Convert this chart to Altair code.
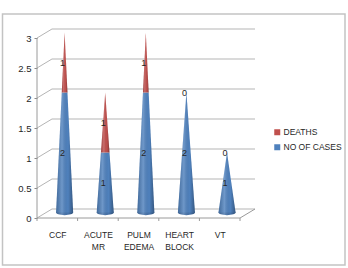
import json
import altair as alt
import pandas as pd

# ---- data -------------------------------------------------------------
categories = ["CCF", "ACUTE MR", "PULM EDEMA", "HEART BLOCK", "VT"]
cases = [2, 1, 2, 2, 1]
deaths = [1, 1, 1, 0, 0]
series_names = ["DEATHS", "NO OF CASES"]
series_colors = ["#C0504D", "#4F81BD"]
y_ticks = [0, 0.5, 1, 1.5, 2, 2.5, 3]

# ---- pseudo-3D geometry (data units) -----------------------------------
DEPTH_X = 0.369   # shift of the back wall along x
DEPTH_Y = 0.15    # shift of the back wall along y
CONE_X = 0.18     # cones stand half way into the floor
CONE_Y = 0.09
CONE_R = 0.21     # cone base radius
N = len(categories)
X_MAX = N + DEPTH_X
Y_MAX = 3 + DEPTH_Y

FONT = "Liberation Sans"
GRID = "#b5b5b5"
TEXT = "#262626"

xs = alt.Scale(domain=[0, X_MAX], nice=False, zero=False)
ys = alt.Scale(domain=[0, Y_MAX], nice=False, zero=False)

name_expr = "split(" + json.dumps(categories) + "[round(datum.value - 0.5)], ' ')"
X_AXIS = alt.Axis(values=[i + 0.5 for i in range(N)], labelExpr=name_expr,
                  ticks=False, domain=False, grid=False, title=None,
                  labelFont=FONT, labelFontSize=8.5, labelColor=TEXT,
                  labelPadding=12, labelLineHeight=12, labelBaseline="top")
Y_AXIS = alt.Axis(values=y_ticks, format="~g", domain=False, grid=False, title=None,
                  ticks=True, tickSize=3, tickColor="#8c8c8c",
                  labelFont=FONT, labelFontSize=9.5, labelColor=TEXT, labelPadding=3)


def X(field):
    return alt.X(field, type="quantitative", scale=xs, axis=X_AXIS, stack=None)


def Y(field):
    return alt.Y(field, type="quantitative", scale=ys, axis=Y_AXIS, stack=None)


# cone segments: each segment is a trapezoid tapering to the cone's own total
cone_rows, label_rows, base_rows = [], [], []
for i, cat in enumerate(categories):
    total = cases[i] + deaths[i]
    cx = i + 0.5 + CONE_X
    base_rows.append({"cx": cx, "by": CONE_Y})
    for name, lo, val in (("NO OF CASES", 0, cases[i]), ("DEATHS", cases[i], deaths[i])):
        hi = lo + val
        label_rows.append({"cx": cx, "ly": lo + val / 2 + CONE_Y, "txt": str(val)})
        if val <= 0:
            continue
        for yv in (lo, hi):
            hw = CONE_R * (1 - yv / total)
            cone_rows.append({"seg": f"{cat}|{name}", "series": name,
                              "y": yv + CONE_Y, "xl": cx - hw, "xr": cx + hw})

cones = pd.DataFrame(cone_rows)
labels = pd.DataFrame(label_rows)
bases = pd.DataFrame(base_rows)

ticks_df = pd.DataFrame({"v": y_ticks})
ticks_df["vb"] = ticks_df["v"] + DEPTH_Y
ticks_df["x0"] = 0.0
ticks_df["xb"] = DEPTH_X
ticks_df["xe"] = X_MAX

# back-wall gridlines and their slanted ends on the side wall
back_grid = alt.Chart(ticks_df).mark_rule(color=GRID, strokeWidth=1).encode(
    x=X("xb"), x2="xe:Q", y=Y("vb"),
)
side_grid = alt.Chart(ticks_df).mark_rule(color=GRID, strokeWidth=1).encode(
    x=X("x0"), x2="xb:Q", y=Y("v"), y2="vb:Q",
)

# front axis line, floor front edge, floor right edge and floor ticks
frame_df = pd.DataFrame({
    "x1": [0, 0, N], "x2": [0, N, N + DEPTH_X],
    "y1": [0, 0, 0], "y2": [3, 0, DEPTH_Y],
})
frame = alt.Chart(frame_df).mark_rule(color="#9a9a9a", strokeWidth=1).encode(
    x=X("x1"), x2="x2:Q", y=Y("y1"), y2="y2:Q",
)
floor_ticks = alt.Chart(pd.DataFrame({"t": list(range(N + 1)), "a": [0] * (N + 1), "b": [-0.05] * (N + 1)})).mark_rule(
    color="#9a9a9a", strokeWidth=1).encode(
    x=X("t"), y=Y("a"), y2="b:Q",
)

# cones
ellipse = "M-1,0 A1,0.3 0 1,1 1,0 A1,0.3 0 1,1 -1,0 Z"
base_px = (2 * CONE_R * 218 / X_MAX) ** 2
cone_base = alt.Chart(bases).mark_point(filled=True, shape=ellipse, size=base_px, opacity=1,
                                        color="#4673ab", strokeWidth=0).encode(
    x=X("cx"), y=Y("by"),
)

cone_fill = alt.Chart(cones).mark_area(orient="horizontal", opacity=1).encode(
    y=Y("y"), x=X("xl"), x2="xr:Q",
    detail="seg:N",
    color=alt.Color("series:N",
                    scale=alt.Scale(domain=series_names, range=series_colors),
                    legend=alt.Legend(title=None, orient="none", legendX=236, legendY=99,
                                      symbolType="square", symbolSize=36, symbolStrokeWidth=0,
                                      labelFont=FONT, labelFontSize=8.5, labelColor=TEXT,
                                      labelOffset=2, rowPadding=6, padding=0)),
)

shade = alt.Gradient(
    gradient="linear", x1=0, x2=1, y1=0, y2=0,
    stops=[
        alt.GradientStop(offset=0, color="rgba(0,0,0,0.18)"),
        alt.GradientStop(offset=0.35, color="rgba(255,255,255,0.18)"),
        alt.GradientStop(offset=0.7, color="rgba(0,0,0,0.0)"),
        alt.GradientStop(offset=1, color="rgba(0,0,0,0.32)"),
    ],
)
cone_shade = alt.Chart(cones).mark_area(orient="horizontal", fill=shade, opacity=1).encode(
    y=Y("y"), x=X("xl"), x2="xr:Q",
    detail="seg:N",
)
base_shade = alt.Chart(bases).mark_point(filled=True, shape=ellipse, size=base_px, fill=shade,
                                         opacity=1, strokeWidth=0).encode(
    x=X("cx"), y=Y("by"),
)

value_labels = alt.Chart(labels).mark_text(font=FONT, fontSize=9, color=TEXT, dx=-2).encode(
    x=X("cx"), y=Y("ly"), text="txt:N",
)

# outer chart border
border = alt.Chart(pd.DataFrame({"k": [0]})).mark_rect(fillOpacity=0, stroke="#c3c3c3", strokeWidth=1.5).encode(
    x=alt.value(-34.5), x2=alt.value(308), y=alt.value(-15), y2=alt.value(236),
)

chart = alt.layer(
    back_grid, side_grid, frame, floor_ticks,
    cone_base, base_shade, cone_fill, cone_shade, value_labels, border,
).properties(
    width=218, height=189,
    padding={"left": 37, "top": 29, "right": 93, "bottom": 50},
    autosize=alt.AutoSizeParams(type="none"),
    background="white",
).configure_view(stroke=None)

chart.save("out.html", embed_options={"renderer": "svg", "actions": False})
